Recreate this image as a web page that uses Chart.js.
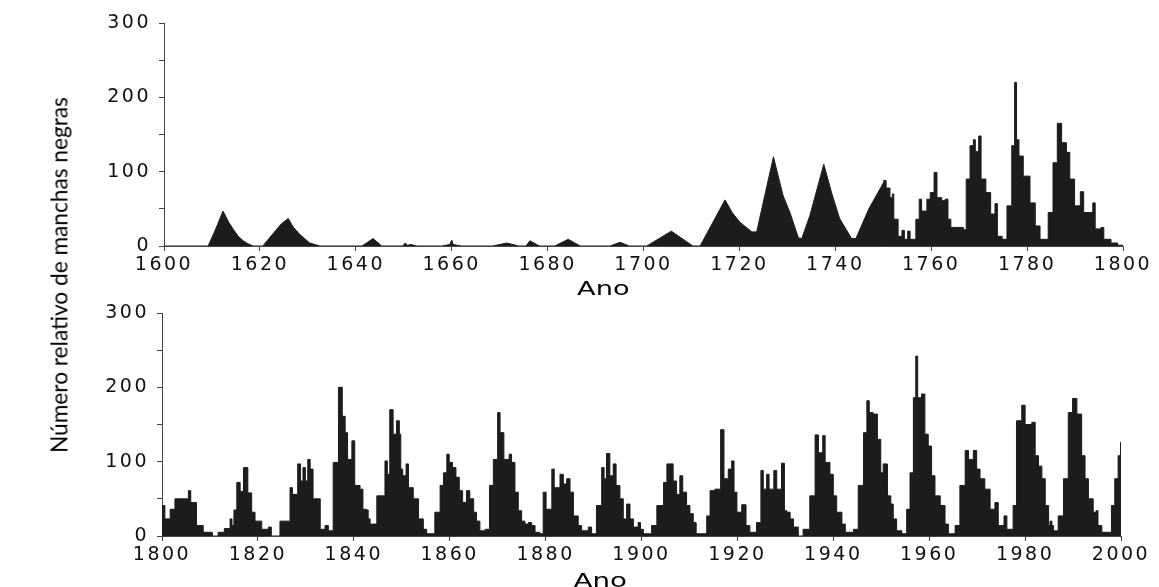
<!DOCTYPE html>
<html>
<head>
<meta charset="utf-8">
<script src="https://cdn.jsdelivr.net/npm/chart.js@4.4.0/dist/chart.umd.min.js"></script>
<style>
    body { margin: 0; background: #fff; }
    #wrap { position: relative; width: 1159px; height: 587px; overflow: hidden; background: #fff; }
    canvas { position: absolute; left: 0; }
    .lbl { position: absolute; white-space: nowrap; font-family: Lato, "DejaVu Sans", sans-serif; color: #000; transform-origin: 50% 50%; }
    #ytitle { font-size: 24px; line-height: 24px; }
    .ano { font-family: "DejaVu Sans", sans-serif; font-size: 20px; line-height: 20px; }
</style>
</head>
<body>
<div id="wrap">
    <canvas id="chartTop" width="1159" height="300" style="top:0"></canvas>
    <canvas id="chartBottom" width="1159" height="297" style="top:290px"></canvas>
    <div class="lbl" id="ytitle">Número relativo de manchas negras</div>
    <div class="lbl ano" id="anoTop">Ano</div>
    <div class="lbl ano" id="anoBottom">Ano</div>
</div>
<script>
// 1600-1750: yearly points, drawn as straight segments
var earlyYears = [1600, 1609.2, 1610.6, 1612.3, 1613.5, 1614.5, 1615.5, 1616.5, 1617.5, 1618.6,
    1620.6, 1622.8, 1624.5, 1625.9, 1627, 1628.4, 1630.4, 1632.5, 1641.3, 1643.6,
    1645.4, 1649.8, 1650.3, 1650.8, 1651.5, 1652.7, 1658, 1659.6, 1660, 1660.3,
    1662, 1668.5, 1671.5, 1674, 1675.5, 1676.3, 1678.3, 1681.5, 1684.3, 1686.8,
    1693, 1695.1, 1697, 1700.7, 1705.8, 1710.3, 1711.8, 1717, 1718.5, 1720.1,
    1722.6, 1723.6, 1727.1, 1729.1, 1730.6, 1732.3, 1733, 1734.7, 1737.6, 1739.3,
    1740.9, 1743.4, 1744.3, 1747, 1750.3];
var earlySpots = [0, 0, 20, 47, 32, 22, 13, 7, 3, 0,
    0, 17, 30, 37, 25, 15, 4, 0, 0, 10,
    0, 0, 4, 1, 2, 0, 0, 2, 8, 2,
    0, 0, 4, 0, 0, 7, 0, 0, 9, 0,
    0, 5, 0, 0, 20, 0, 0, 62, 45, 32,
    19, 19, 120, 68, 44, 11, 10, 41, 110, 70,
    37, 10, 10, 50, 88];

// 1750-1800: stepped values (value holds until next year entry)
var lateYears = [1750, 1750.6, 1751.4, 1751.9, 1752.2, 1753.1, 1753.9, 1754.4, 1755.1, 1755.6,
    1756.8, 1757.5, 1758, 1759.1, 1759.8, 1760.6, 1761.2, 1762.2, 1762.9, 1763.5,
    1764.1, 1766.7, 1767.3, 1768.1, 1768.8, 1769.2, 1769.9, 1770.4, 1771.4, 1772.4,
    1773.3, 1773.8, 1774.8, 1775.8, 1776.8, 1777.4, 1777.8, 1778.3, 1779.2, 1780.6,
    1781.7, 1782.7, 1784.4, 1785.4, 1786.3, 1787.2, 1788.2, 1788.9, 1789.9, 1791.1,
    1791.8, 1793.7, 1794.2, 1795.4, 1796, 1797.5, 1798.9, 1800];
var lateSpots = [88, 78, 65, 70, 36, 13, 21, 9, 20, 9,
    36, 63, 47, 63, 72, 99, 65, 61, 63, 36,
    25, 22, 90, 135, 143, 127, 148, 90, 72, 43,
    57, 13, 9, 54, 135, 220, 143, 121, 94, 58,
    27, 9, 45, 112, 165, 139, 126, 90, 54, 73,
    45, 58, 23, 25, 9, 4, 1, 0];

// 1800-2000: stepped values
var modernYears = [1800, 1800.6, 1801.7, 1802.7, 1805.5, 1806, 1807.2, 1808.6, 1810.5, 1811.7,
    1813, 1814.2, 1814.6, 1815, 1815.6, 1816.3, 1817, 1817.9, 1818.7, 1819.4,
    1820.8, 1822.2, 1822.8, 1824.6, 1826.7, 1827.2, 1828.3, 1828.9, 1829.4, 1829.9,
    1830.4, 1830.9, 1831.5, 1833, 1834, 1834.7, 1835.7, 1836.8, 1837.6, 1838.2,
    1838.7, 1839.6, 1840.2, 1841.3, 1841.9, 1842.6, 1843, 1843.4, 1844.8, 1846.5,
    1847, 1847.5, 1848.2, 1848.9, 1849.5, 1849.8, 1850.2, 1850.9, 1851.4, 1852.4,
    1853.5, 1854.5, 1855.2, 1856.9, 1858, 1858.7, 1859.4, 1859.9, 1860.6, 1861.3,
    1862, 1862.7, 1863.5, 1864.2, 1865, 1865.6, 1866.3, 1867.4, 1868.3, 1869.1,
    1870, 1870.5, 1871.3, 1872.4, 1872.9, 1873.6, 1874.3, 1875, 1875.7, 1876.4,
    1877.1, 1877.8, 1878.8, 1879.5, 1880.1, 1881.3, 1881.8, 1883, 1883.7, 1884.4,
    1885.1, 1885.8, 1886.8, 1887.5, 1888.9, 1889.6, 1890.6, 1891.7, 1892.2, 1892.7,
    1893.4, 1894.1, 1894.7, 1895.5, 1896.2, 1896.9, 1897.6, 1898.3, 1899.3, 1899.8,
    1900.4, 1902.1, 1903.2, 1904.6, 1905.3, 1906.6, 1907.3, 1908, 1908.6, 1909.4,
    1910.1, 1910.8, 1911.4, 1913.6, 1914.3, 1915.3, 1916.5, 1917.2, 1918.1, 1918.8,
    1919.3, 1919.9, 1920.9, 1921.8, 1922.6, 1924, 1924.9, 1925.4, 1926.1, 1926.6,
    1927.6, 1928.2, 1929.2, 1929.8, 1930.3, 1931, 1931.7, 1932.7, 1933.7, 1935.1,
    1936.2, 1936.9, 1937.8, 1938.3, 1939.3, 1940, 1940.7, 1941.8, 1942.5, 1944.2,
    1945.2, 1946.3, 1947, 1947.5, 1948.3, 1949.2, 1949.9, 1950.4, 1951.3, 1952,
    1952.5, 1953.2, 1954.3, 1955.3, 1956, 1956.7, 1957.2, 1957.6, 1958.4, 1959.1,
    1959.8, 1960.5, 1961.2, 1962.3, 1963.3, 1964, 1965.4, 1966.4, 1967.5, 1968.2,
    1969.2, 1969.9, 1970.6, 1971.6, 1972.7, 1973.7, 1974.4, 1975.6, 1976.2, 1977.5,
    1978.2, 1979.3, 1980, 1981.4, 1982.1, 1982.8, 1983.5, 1984.2, 1984.9, 1985.2,
    1985.6, 1985.9, 1986.9, 1988, 1989, 1989.9, 1990.8, 1991.8, 1992.5, 1993.2,
    1994.2, 1994.8, 1995.2, 1996, 1998, 1998.7, 1999.4, 1999.9, 2000];
var modernSpots = [41, 23, 36, 50, 61, 45, 14, 5, 0, 5,
    10, 23, 14, 35, 72, 60, 92, 58, 32, 20,
    9, 12, 0, 20, 65, 56, 97, 74, 92, 74,
    103, 90, 50, 9, 14, 7, 99, 200, 161, 139,
    103, 128, 68, 63, 36, 35, 23, 16, 54, 101,
    83, 170, 137, 155, 137, 90, 81, 97, 65, 50,
    23, 9, 3, 32, 68, 85, 110, 99, 92, 79,
    61, 45, 61, 50, 32, 20, 7, 9, 68, 103,
    166, 139, 103, 110, 99, 59, 34, 20, 16, 18,
    14, 5, 3, 59, 36, 90, 65, 83, 70, 77,
    59, 27, 14, 7, 12, 3, 41, 92, 77, 111,
    81, 97, 68, 50, 23, 43, 23, 12, 18, 9,
    3, 14, 41, 72, 97, 74, 56, 81, 59, 41,
    30, 18, 3, 27, 61, 63, 143, 77, 90, 101,
    59, 32, 42, 14, 5, 18, 88, 63, 83, 63,
    88, 63, 98, 34, 32, 23, 12, 0, 9, 54,
    136, 112, 135, 99, 83, 54, 32, 16, 5, 9,
    68, 139, 182, 166, 164, 130, 85, 97, 54, 43,
    23, 7, 3, 36, 85, 186, 242, 186, 191, 137,
    121, 81, 54, 41, 16, 3, 14, 68, 115, 103,
    115, 90, 77, 63, 36, 45, 14, 27, 9, 41,
    155, 176, 150, 153, 108, 94, 77, 41, 14, 20,
    14, 7, 27, 77, 166, 185, 164, 108, 77, 50,
    32, 34, 14, 5, 41, 77, 108, 126, 126];

var yTicks = [0, 100, 200, 300];

var INK = "#1c1c1c",
    AXIS = "#444",
    AREA_TOP = 23,
    AREA_BOTTOM = 246;

function toPoints(xs, ys) {
    return xs.map(function(x, i) {
        return { x: x, y: ys[i] };
    });
}

function areaSet(xs, ys, stepped) {
    return {
        data: toPoints(xs, ys),
        stepped: stepped,
        fill: "origin",
        backgroundColor: INK,
        borderColor: INK,
        borderWidth: 1,
        pointRadius: 0,
        tension: 0
    };
}

// canvas text spacing, the scan uses a wide typeface
var spacing = {
    id: "spacing",
    beforeDraw: function(chart) {
        chart.ctx.letterSpacing = "2.5px";
    },
    afterDraw: function(chart) {
        chart.ctx.letterSpacing = "0px";
    }
};

function makeChart(id, datasets, xMin, xMax, plotLeft, plotRight) {
    var tickFont = { family: "DejaVu Sans", size: 19 };
    return new Chart(document.getElementById(id), {
        type: "line",
        data: { datasets: datasets },
        plugins: [spacing],
        options: {
            responsive: false,
            animation: false,
            layout: { padding: { left: 0, top: AREA_TOP, right: 1159 - plotRight, bottom: 0 } },
            plugins: { legend: { display: false }, tooltip: { enabled: false } },
            scales: {
                x: {
                    type: "linear",
                    min: xMin,
                    max: xMax,
                    ticks: {
                        stepSize: 20,
                        autoSkip: false,
                        maxRotation: 0,
                        padding: 3,
                        color: "#111",
                        font: tickFont,
                        callback: function(v) { return String(v); }
                    },
                    grid: { drawOnChartArea: false, drawTicks: true, tickLength: 5, color: AXIS },
                    border: { display: true, color: AXIS, width: 1 },
                    afterFit: function(scale) {
                        scale.height = scale.chart.height - AREA_BOTTOM;
                    }
                },
                y: {
                    min: 0,
                    max: 300,
                    ticks: {
                        stepSize: 50,
                        padding: 8,
                        color: "#111",
                        font: tickFont,
                        callback: function(v) { return yTicks.indexOf(v) >= 0 ? String(v) : ""; }
                    },
                    grid: { drawOnChartArea: false, drawTicks: true, tickLength: 5, color: AXIS },
                    border: { display: true, color: AXIS, width: 1 },
                    afterFit: function(scale) {
                        scale.width = plotLeft;
                    }
                }
            }
        }
    });
}

function placeLabel(id, cx, cy, width, angle) {
    var el = document.getElementById(id),
        w = el.offsetWidth,
        h = el.offsetHeight;
    el.style.left = (cx - w / 2) + "px";
    el.style.top = (cy - h / 2) + "px";
    el.style.transform = "rotate(" + angle + "deg) scaleX(" + (width / w) + ")";
}

makeChart("chartTop", [
    areaSet(earlyYears, earlySpots, false),
    areaSet(lateYears, lateSpots, true)
], 1600, 1800, 164, 1123);

makeChart("chartBottom", [
    areaSet(modernYears, modernSpots, true)
], 1800, 2000, 162, 1121);

placeLabel("ytitle", 58, 275, 356, -90);
placeLabel("anoTop", 603, 288, 53, 0);
placeLabel("anoBottom", 600, 580, 54, 0);
</script>
</body>
</html>
